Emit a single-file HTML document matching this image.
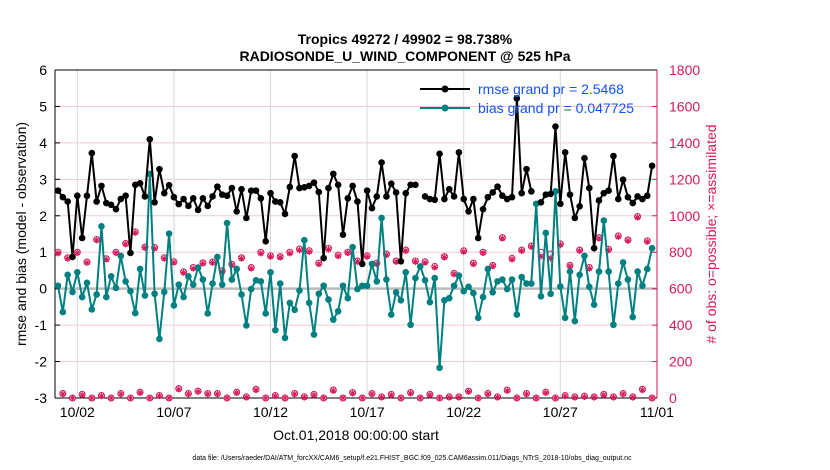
<!DOCTYPE html>
<html><head><meta charset="utf-8"><style>
body{margin:0;background:#fff;}
svg{display:block;font-family:"Liberation Sans",Arial,sans-serif;}
</style></head><body>
<svg id="chart" width="830" height="470" viewBox="0 0 830 470" xmlns="http://www.w3.org/2000/svg">
<text x="405" y="44" text-anchor="middle" font-size="14" font-weight="bold">Tropics 49272 / 49902 = 98.738%</text>
<text x="405" y="61" text-anchor="middle" font-size="14" font-weight="bold">RADIOSONDE_U_WIND_COMPONENT @ 525 hPa</text>
<g id="grid"></g>
<g id="axes"></g>
<g id="marks"></g>
<text transform="translate(26,234) rotate(-90)" text-anchor="middle" font-size="14">rmse and bias (model - observation)</text>
<text transform="translate(716,234) rotate(-90)" text-anchor="middle" font-size="14" fill="#d6185c"># of obs: o=possible; ×=assimilated</text>
<text x="356" y="440" text-anchor="middle" font-size="14">Oct.01,2018 00:00:00 start</text>
<text x="412" y="460" text-anchor="middle" font-size="7">data file: /Users/raeder/DAI/ATM_forcXX/CAM6_setup/f.e21.FHIST_BGC.f09_025.CAM6assim.011/Diags_NTrS_2018-10/obs_diag_output.nc</text>
<g>
<line x1="420" y1="89" x2="470" y2="89" stroke="#000" stroke-width="2"/>
<circle cx="445" cy="89" r="3.5" fill="#000"/>
<text x="478" y="94" font-size="14" fill="#1550f0">rmse grand pr = 2.5468</text>
<line x1="420" y1="108" x2="470" y2="108" stroke="#008080" stroke-width="2"/>
<circle cx="445" cy="108" r="3.5" fill="#008080"/>
<text x="478" y="113" font-size="14" fill="#1550f0">bias grand pr = 0.047725</text>
</g>
</svg>
<script>
const rmse = [2.69,2.51,2.39,0.87,2.55,1.39,2.55,3.72,2.39,2.82,2.35,2.30,2.18,2.46,2.55,0.98,2.85,2.89,2.53,4.10,2.37,3.28,2.62,2.84,2.51,2.32,2.46,2.27,2.48,2.16,2.48,2.27,
2.53,2.80,2.58,2.55,2.76,2.12,2.73,1.94,2.69,2.69,2.48,1.30,2.62,2.39,2.37,2.05,2.79,3.64,2.76,2.78,2.82,2.91,2.65,0.84,2.76,3.15,2.85,1.48,2.48,2.82,2.39,
0.68,2.69,2.21,2.53,3.46,2.53,2.88,2.64,0.75,2.62,2.85,2.85,null,2.53,2.46,2.44,3.70,2.46,2.73,2.53,3.74,2.46,2.12,2.46,1.39,2.18,2.51,2.64,2.80,2.55,2.46,
2.51,5.22,2.62,3.28,2.67,null,2.37,2.58,2.60,4.45,2.33,3.74,2.58,1.94,2.26,3.58,2.76,1.11,2.42,2.62,2.69,3.64,2.46,2.99,2.51,2.35,2.53,2.46,2.55,3.37];
const bias = [0.08,-0.64,0.38,-0.09,0.45,-0.23,0.16,-0.57,-0.16,1.71,-0.23,0.34,0.02,0.90,0.20,-0.07,-0.67,0.54,-0.19,3.15,-0.14,-1.38,-0.09,1.51,-0.46,0.11,-0.23,0.34,0.11,0.58,0.25,-0.68,
0.14,0.87,0.11,1.80,0.25,0.54,-0.16,-1.01,-0.01,0.23,0.20,-0.68,0.45,-1.14,0.14,-1.35,-0.39,-0.58,-0.05,1.33,-0.39,-1.26,-0.14,0.08,-0.30,-0.85,-0.62,0.08,-0.26,1.14,-0.01,
0.08,0.08,0.68,0.20,1.94,0.25,-0.71,-0.10,-0.32,0.45,-0.99,0.29,0.61,0.23,-0.37,0.29,-2.17,-0.32,-0.26,0.08,0.36,-0.07,0.05,-0.12,-0.80,-0.23,0.54,-0.10,0.20,0.25,-0.01,
0.25,-0.71,0.32,0.14,0.14,2.33,-0.21,1.53,-0.14,2.67,0.06,-0.80,0.47,-0.89,0.38,0.90,0.05,-0.44,0.47,1.87,0.47,-0.99,0.14,0.72,0.25,-0.78,0.47,0.08,0.54,1.11];
const obsAssim = [794,22,766,0,797,16,743,0,867,11,761,0,797,22,845,0,907,29,825,0,821,11,766,0,744,48,688,22,711,35,739,22,
743,22,693,0,730,29,766,4,711,44,794,0,776,11,772,0,794,22,812,4,803,16,735,0,816,40,779,0,797,26,748,
0,776,22,735,4,785,16,748,0,808,26,748,0,743,16,717,0,772,4,680,4,803,35,735,0,797,22,724,4,876,40,
761,0,808,22,830,0,776,29,766,0,840,11,724,4,808,7,711,4,876,16,812,4,885,22,863,4,991,44,858,0];
const obsPossible = [800,25,770,0,800,20,746,0,870,14,764,0,800,25,848,0,912,32,828,0,826,14,770,0,748,52,692,25,716,38,742,25,
746,25,698,0,734,32,770,6,716,48,800,0,780,14,776,0,800,25,818,6,808,20,740,0,822,44,784,0,800,30,752,
0,780,25,740,6,790,20,752,0,812,30,752,0,748,20,722,0,776,6,684,6,808,38,740,0,800,25,728,6,880,44,
766,0,812,25,834,0,800,32,790,0,846,14,728,6,812,10,716,6,880,20,816,6,890,25,868,6,996,48,862,0];
const leftTicks = [-3,-2,-1,0,1,2,3,4,5,6];
const rightTicks = [0,200,400,600,800,1000,1200,1400,1600,1800];
const dateTicks = [1,6,11,16,21,26,31];
const dateLabels = ["10/02","10/07","10/12","10/17","10/22","10/27","11/01"];

const X0=55,X1=657,Y0=70,Y1=398;
const xs=t=>58+t*19.32;
const yL=v=>Y1-(v+3)/9*(Y1-Y0);
const yR=v=>Y1-v/1800*(Y1-Y0);
const NS="http://www.w3.org/2000/svg";
function mk(parent,tag,attrs){const e=document.createElementNS(NS,tag);for(const k in attrs)e.setAttribute(k,attrs[k]);parent.appendChild(e);return e;}
const grid=document.getElementById('grid'),axes=document.getElementById('axes'),marks=document.getElementById('marks');

leftTicks.forEach(v=>{
  if(v>-3&&v<6){const l=mk(grid,'line',{x1:X0,x2:X1,y1:yL(v),y2:yL(v),stroke:'#f4c8d8','stroke-width':1});
  
  }
  const t=mk(axes,'text',{x:X0-8,y:yL(v)+5,'text-anchor':'end','font-size':14});t.textContent=v;
  
  
  mk(axes,'line',{x1:X0,x2:X0+5,y1:yL(v),y2:yL(v),stroke:'#000'});
});
rightTicks.forEach(v=>{
  const t=mk(axes,'text',{x:X1+12,y:yR(v)+5,'font-size':14,fill:'#d6185c'});t.textContent=v;
  
  
  mk(axes,'line',{x1:X1-5,x2:X1,y1:yR(v),y2:yR(v),stroke:'#d6185c'});
});
dateTicks.forEach((d,i)=>{
  const x=xs(d);
  const g=mk(grid,'line',{x1:x,x2:x,y1:Y0,y2:Y1,stroke:'#d8d8d8'});
  
  
  const t=mk(axes,'text',{x:x,y:417,'text-anchor':'middle','font-size':14});t.textContent=dateLabels[i];
  
  
});
mk(axes,'line',{x1:X0,x2:X1,y1:Y0,y2:Y0,stroke:'#000'});
mk(axes,'line',{x1:X0,x2:X1,y1:Y1,y2:Y1,stroke:'#000'});
mk(axes,'line',{x1:X0,x2:X0,y1:Y0,y2:Y1,stroke:'#000'});
mk(axes,'line',{x1:X1,x2:X1,y1:Y0,y2:Y1,stroke:'#d6185c'});
const zl=mk(grid,'line',{x1:X0,x2:X1,y1:yL(0),y2:yL(0),stroke:'#bbb','stroke-width':2.5});



obsPossible.forEach((v,i)=>{
  const c=mk(marks,'circle',{cx:xs(i/4),cy:yR(v),r:3,fill:'none',stroke:'#d6185c','stroke-width':1});
  
  
});
obsAssim.forEach((v,i)=>{
  const x=xs(i/4),y=yR(v),r=3.3;
  const p=mk(marks,'path',{d:`M${x-r} ${y}H${x+r}M${x} ${y-r}V${y+r}M${x-2.3} ${y-2.3}L${x+2.3} ${y+2.3}M${x-2.3} ${y+2.3}L${x+2.3} ${y-2.3}`,stroke:'#d6185c','stroke-width':1});
  
  
});

function series(arr,color,name){
  let d='',pen=false;
  arr.forEach((v,i)=>{ if(v===null){pen=false;return;} d+=(pen?'L':'M')+xs(i/4).toFixed(1)+' '+yL(v).toFixed(1); pen=true;});
  const p=mk(marks,'path',{d:d,fill:'none',stroke:color,'stroke-width':2});
  
  
  arr.forEach((v,i)=>{ if(v===null)return;
    const c=mk(marks,'circle',{cx:xs(i/4),cy:yL(v),r:3.3,fill:color});
    
    
  });
}
series(bias,'#008080','bias');
series(rmse,'#000000','rmse');
</script>
</body></html>
